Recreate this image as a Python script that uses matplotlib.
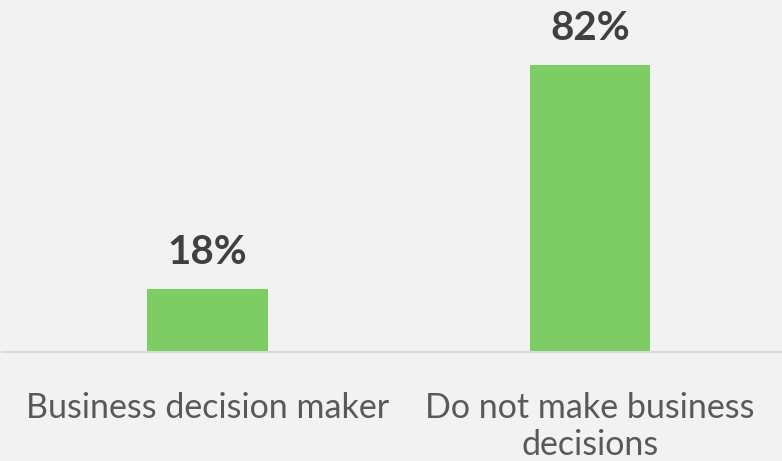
import matplotlib
matplotlib.use("Agg")
import matplotlib.pyplot as plt

categories = ["Business decision maker", "Do not make business\ndecisions"]
values = [18, 82]
value_labels = ["18%", "82%"]

BG = "#f2f2f2"
fig = plt.figure(figsize=(7.82, 4.61), dpi=100, facecolor=BG)
ax = fig.add_axes([2/782, 109/461, 779/782, 350/461], facecolor=BG)

x = list(range(len(categories)))
ax.bar(x, values, width=0.314, color="#7dcc64", zorder=2)
ax.set_xlim(-0.537, 1.499)
ax.set_ylim(0, 100)

for xi, v, lab in zip(x, values, value_labels):
    ax.text(xi, v + 10.3, lab, ha="center", va="center", fontsize=29,
            fontweight="bold", color="#404040", family="Lato")

for s in ["top", "right", "left"]:
    ax.spines[s].set_visible(False)
ax.spines["bottom"].set_color("#d9d9d9")
ax.spines["bottom"].set_linewidth(1.5)
ax.set_yticks([])
ax.set_xticks(x)
ax.set_xticklabels(categories, fontsize=24.5, color="#595959", family="Lato",
                   linespacing=1.2, va="top")
ax.tick_params(axis="x", length=0, pad=29)

fig.savefig("out.png", dpi=100, facecolor=BG)
